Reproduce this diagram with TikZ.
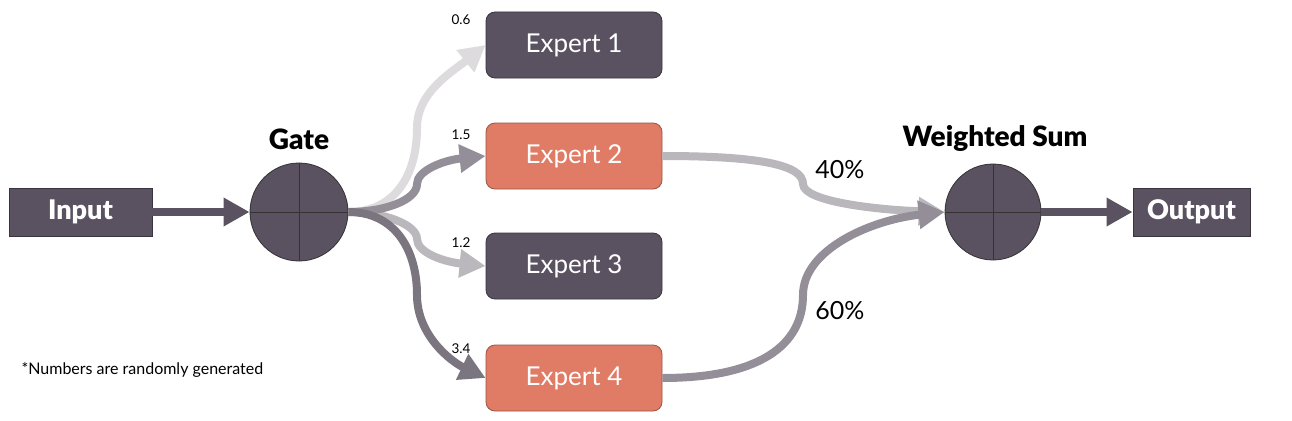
\documentclass[tikz,border=0pt]{standalone}
\usepackage{fontspec}
\setmainfont{Lato}[BoldFont={Lato Black}]
\usetikzlibrary{arrows.meta}
\definecolor{dk}{HTML}{5A5260}
\definecolor{dkline}{HTML}{3A343E}
\definecolor{sal}{HTML}{E07B65}
\definecolor{salline}{HTML}{9A5444}
\definecolor{cA}{HTML}{DDDBDD}
\definecolor{cB}{HTML}{938E97}
\definecolor{cC}{HTML}{BBB8BD}
\definecolor{cD}{HTML}{7B7580}
\definecolor{cE}{HTML}{B9B6BC}
\definecolor{cF}{HTML}{938E97}
\tikzset{
  sqbox/.style={draw=dkline, line width=0.8pt, fill=dk, text=white, minimum width=#1, minimum height=48pt, inner sep=0pt, font=\fontsize{27}{30}\selectfont\bfseries},
  expbox/.style={draw=dkline, line width=0.8pt, fill=dk, text=white, rounded corners=9pt, minimum width=176pt, minimum height=66pt, inner sep=0pt, font=\fontsize{26}{30}\selectfont},
  salbox/.style={expbox, fill=sal, draw=salline},
  sumc/.style={circle, draw=black!80, line width=0.8pt, fill=dk, minimum size=#1, inner sep=0pt},
  crossl/.style={draw=black!80, line width=0.8pt},
  flow/.style={line width=8pt, -{Triangle[length=26pt,width=27pt]}},
  weight/.style={font=\fontsize{13.5}{15}\selectfont, text=black},
  pct/.style={font=\fontsize{25}{28}\selectfont, text=black},
  ttl/.style={font=\fontsize{28}{32}\selectfont\bfseries, text=black},
}
\begin{document}
\begin{tikzpicture}[x=1pt,y=-1pt]
\useasboundingbox (0,0) rectangle (1292,420);
% nodes
\node[sqbox=143pt] (in) at (80.5,212) {Input};
\node[sumc=98pt] (g) at (299,212) {};
\draw[crossl] (g.north) -- (g.south);
\draw[crossl] (g.west) -- (g.east);
\node[ttl] (gt) at (299,139) {Gate};
\node[expbox] (e1) at (574,45) {\raisebox{-2pt}{Expert 1}};
\node[salbox] (e2) at (574,156) {\raisebox{-2pt}{Expert 2}};
\node[expbox] (e3) at (574,266) {\raisebox{-2pt}{Expert 3}};
\node[salbox] (e4) at (574,378) {\raisebox{-2pt}{Expert 4}};
\node[sumc=96pt] (ws) at (993,212) {};
\draw[crossl] (ws.north) -- (ws.south);
\draw[crossl] (ws.west) -- (ws.east);
\node[ttl] (wst) at (995,138) {Weighted Sum};
\node[sqbox=117pt] (out) at (1191.5,212) {Output};
% connectors
\draw[flow, dk] (in.east) -- (g.west);
\draw[flow, cA] (g.east) .. controls (395,212) and (417,175) .. (417,128) .. controls (417,92) and (452,72) .. (e1.west);
\draw[flow, cC] (g.east) .. controls (385,212) and (417,225) .. (417,239) .. controls (417,253) and (445,262) .. (e3.west);
\draw[flow, cB] (g.east) .. controls (385,212) and (417,200) .. (417,184) .. controls (417,170) and (445,160) .. (e2.west);
\draw[flow, cD] (g.east) .. controls (395,212) and (417,250) .. (417,295) .. controls (417,336) and (452,362) .. (e4.west);
\draw[flow, cE] (e2.east) .. controls (760,156) and (803,165) .. (803,184) .. controls (803,202) and (880,210) .. (ws.west);
\draw[flow, cF] (e4.east) .. controls (760,378) and (803,345) .. (803,295) .. controls (803,250) and (870,220) .. (ws.west);
\draw[flow, dk] (ws.east) -- (out.west);
% labels
\node[weight] (w1) at (461,20) {0.6};
\node[weight] (w2) at (461,135) {1.5};
\node[weight] (w3) at (461,243) {1.2};
\node[weight] (w4) at (461,349) {3.4};
\node[pct] (p1) at (840,170) {40\%};
\node[pct] (p2) at (840,311) {60\%};
\node[anchor=west, font=\fontsize{16}{19}\selectfont, text=black] (note) at (18,370) {*Numbers are randomly generated};
\end{tikzpicture}
\end{document}
